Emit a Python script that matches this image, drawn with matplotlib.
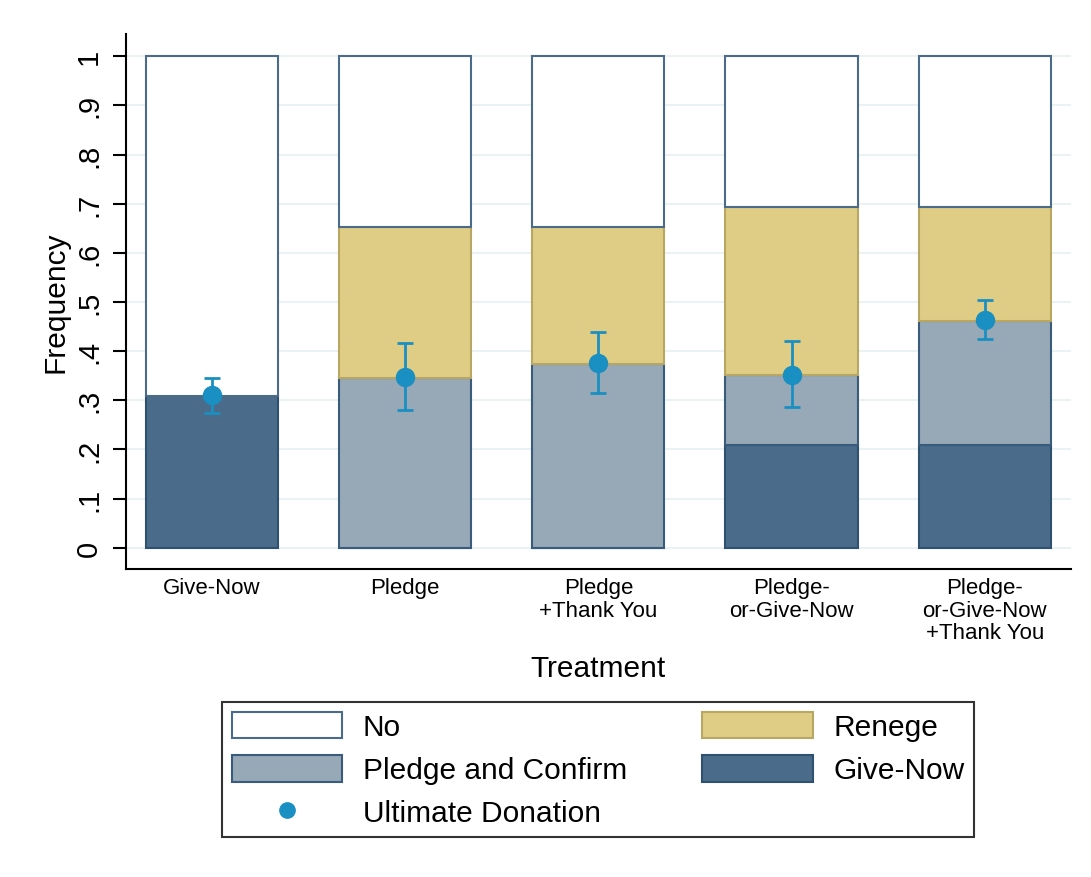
import numpy as np
import matplotlib
matplotlib.use('Agg')
import matplotlib.pyplot as plt
from matplotlib.patches import Patch
from matplotlib.lines import Line2D

plt.rcParams['font.family'] = ['Liberation Sans', 'DejaVu Sans']

treatments = ['Give-Now', 'Pledge', 'Pledge\n+Thank You',
              'Pledge-\nor-Give-Now', 'Pledge-\nor-Give-Now\n+Thank You']
give_now = [0.308, 0.0, 0.0, 0.209, 0.209]
pledge_confirm = [0.0, 0.345, 0.374, 0.143, 0.253]
renege = [0.0, 0.307, 0.278, 0.341, 0.231]
ultimate = [0.310, 0.347, 0.376, 0.352, 0.463]
ci_low = [0.275, 0.280, 0.314, 0.286, 0.424]
ci_high = [0.345, 0.416, 0.439, 0.421, 0.505]
yticks = [0, .1, .2, .3, .4, .5, .6, .7, .8, .9, 1]
yticklabels = ['0', '.1', '.2', '.3', '.4', '.5', '.6', '.7', '.8', '.9', '1']

c_gn = '#4a6b8a'
c_pc = '#97a8b7'
c_rn = '#dfcd85'
c_dot = '#1a8fc1'

fig = plt.figure(figsize=(10.91, 8.78), dpi=100)
ax = fig.add_axes([0.1155, 0.351, 0.866, 0.609])

x = np.arange(len(treatments))
w = 0.684
gn = np.array(give_now)
pc = np.array(pledge_confirm)
rn = np.array(renege)
no = 1 - gn - pc - rn

ax.bar(x, gn, w, color=c_gn, edgecolor='#2f5170', lw=1.5, zorder=2)
ax.bar(x, pc, w, bottom=gn, color=c_pc, edgecolor='#3a5c7c', lw=1.5, zorder=2)
ax.bar(x, rn, w, bottom=gn + pc, color=c_rn, edgecolor='#b8a763', lw=1.5, zorder=2)
ax.bar(x, no, w, bottom=gn + pc + rn, color='white', edgecolor=c_gn, lw=1.5, zorder=2)

u = np.array(ultimate)
err = [u - np.array(ci_low), np.array(ci_high) - u]
ax.errorbar(x, u, yerr=err, fmt='o', color=c_dot, ms=13, elinewidth=2,
            capsize=5.8, capthick=2, zorder=3)

ax.set_xlim(-0.446, 4.446)
ax.set_ylim(-0.043, 1.045)
ax.set_yticks(yticks)
ax.set_yticklabels(yticklabels, rotation=90, va='center', fontsize=21)
ax.set_xticks(x)
ax.set_xticklabels(treatments, fontsize=16, linespacing=1.1)
ax.tick_params(axis='x', length=0, pad=6)
ax.tick_params(axis='y', length=9.5, width=1.5, pad=7)
ax.grid(axis='y', color='#eaf2f3', lw=1.5, zorder=0)
ax.set_axisbelow(True)
for s in ['top', 'right']:
    ax.spines[s].set_visible(False)
ax.spines['left'].set_linewidth(1.5)
ax.spines['bottom'].set_linewidth(1.5)
ax.set_ylabel('Frequency', fontsize=21.5, labelpad=4)
ax.set_xlabel('Treatment', fontsize=21.5, labelpad=8)

handles = [
    Patch(facecolor='white', edgecolor=c_gn, lw=1.5, label='No'),
    Patch(facecolor=c_pc, edgecolor='#3a5c7c', lw=1.5, label='Pledge and Confirm'),
    Line2D([], [], marker='o', ls='none', color=c_dot, ms=11, label='Ultimate Donation'),
    Patch(facecolor=c_rn, edgecolor='#b8a763', lw=1.5, label='Renege'),
    Patch(facecolor=c_gn, edgecolor='#2f5170', lw=1.5, label='Give-Now'),
]
leg = fig.legend(handles=handles, ncol=2, loc='lower left',
                 bbox_to_anchor=(0.2035, 0.0456, 0.6895, 0.157), mode='expand',
                 borderaxespad=0, fontsize=21.5, frameon=True, fancybox=False,
                 edgecolor='black', handlelength=3.7, handleheight=1.0,
                 handletextpad=0.7, labelspacing=0.45, borderpad=0.32)
leg.get_frame().set_linewidth(1.5)

fig.savefig('out.png', dpi=100, facecolor='white')
